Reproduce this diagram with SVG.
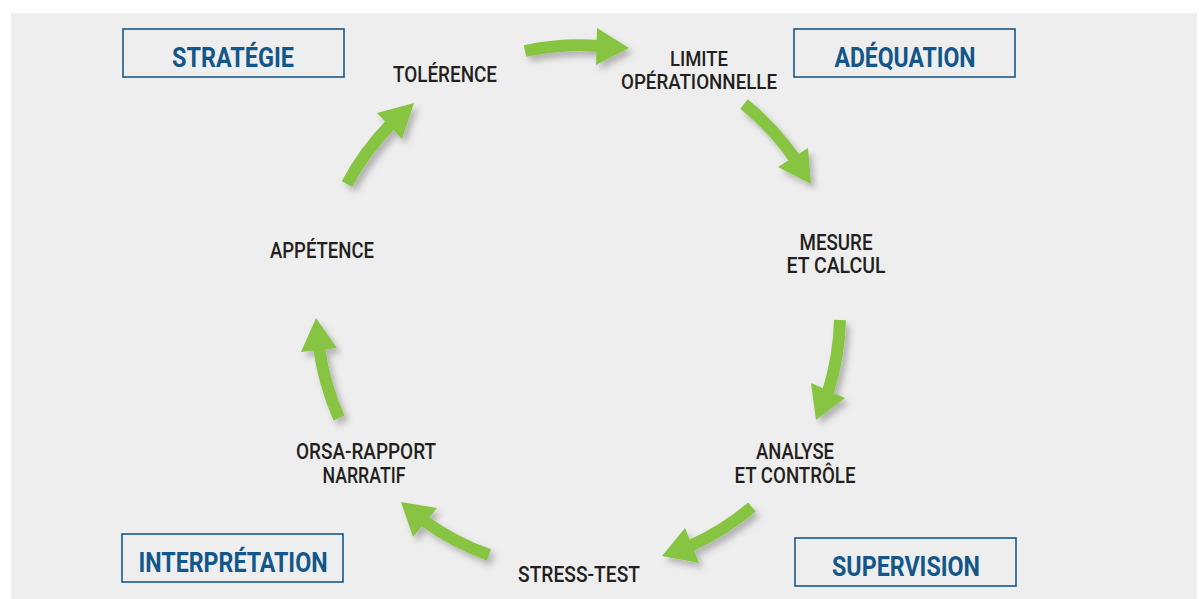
<svg xmlns="http://www.w3.org/2000/svg" width="1202" height="599" viewBox="0 0 1202 599">
<style>
.bg{fill:#eeeeee}
.box{fill:none;stroke:#14598c;stroke-width:1.6}
.hdr{font-family:Roboto,"Liberation Sans",sans-serif;font-weight:700;font-size:28px;fill:#12568a;text-anchor:middle}
.lbl{font-family:Roboto,"Liberation Sans",sans-serif;font-weight:500;font-size:22px;fill:#231f20;text-anchor:middle}
.tight{font-size:21px}
.shaft{fill:none;stroke:#86c442;stroke-width:12}
.head{fill:#86c442}
</style>
<defs>
<filter id="sh" x="-30%" y="-30%" width="160%" height="160%">
<feDropShadow dx="4" dy="5" stdDeviation="3" flood-color="#000" flood-opacity="0.25"/>
</filter>
</defs>
<rect class="bg" x="11" y="13" width="1186" height="586"/>

<g id="strategie"><rect class="box" x="123" y="29" width="221" height="48"/><text class="hdr" x="233" y="67" textLength="122" lengthAdjust="spacingAndGlyphs">STRATÉGIE</text></g>
<g id="adequation"><rect class="box" x="794" y="29" width="221" height="48"/><text class="hdr" x="905" y="67" textLength="141" lengthAdjust="spacingAndGlyphs">ADÉQUATION</text></g>
<g id="interpretation"><rect class="box" x="122" y="534" width="221" height="48"/><text class="hdr" x="233" y="572" textLength="189" lengthAdjust="spacingAndGlyphs">INTERPRÉTATION</text></g>
<g id="supervision"><rect class="box" x="795" y="538" width="221" height="48"/><text class="hdr" x="906" y="576" textLength="148" lengthAdjust="spacingAndGlyphs">SUPERVISION</text></g>

<g id="tolerence"><text class="lbl" x="445" y="82" textLength="104" lengthAdjust="spacingAndGlyphs">TOLÉRENCE</text></g>
<g id="limite"><text class="lbl tight" x="699" y="66" textLength="58" lengthAdjust="spacingAndGlyphs">LIMITE</text><text class="lbl tight" x="699" y="89" textLength="156" lengthAdjust="spacingAndGlyphs">OPÉRATIONNELLE</text></g>
<g id="mesure"><text class="lbl" x="836" y="250" textLength="73" lengthAdjust="spacingAndGlyphs">MESURE</text><text class="lbl" x="836" y="273" textLength="99" lengthAdjust="spacingAndGlyphs">ET CALCUL</text></g>
<g id="analyse"><text class="lbl" x="795" y="459" textLength="78" lengthAdjust="spacingAndGlyphs">ANALYSE</text><text class="lbl" x="795" y="483" textLength="121" lengthAdjust="spacingAndGlyphs">ET CONTRÔLE</text></g>
<g id="stresstest"><text class="lbl" x="579" y="582" textLength="122" lengthAdjust="spacingAndGlyphs">STRESS-TEST</text></g>
<g id="orsa"><text class="lbl" x="366" y="459" textLength="140" lengthAdjust="spacingAndGlyphs">ORSA-RAPPORT</text><text class="lbl" x="364" y="483" textLength="83" lengthAdjust="spacingAndGlyphs">NARRATIF</text></g>
<g id="appetence"><text class="lbl" x="322" y="258" textLength="104" lengthAdjust="spacingAndGlyphs">APPÉTENCE</text></g>

<g id="connectors" filter="url(#sh)">
<path class="shaft" d="M525 51 A262 262 0 0 1 600 46"/>
<polygon class="head" points="597,28 629,48 596,65"/>
<path class="shaft" d="M744 104 A262 262 0 0 1 795 159"/>
<polygon class="head" points="778,167 808,148 811,184"/>
<path class="shaft" d="M840 320 A262 262 0 0 1 828 392"/>
<polygon class="head" points="811,383 845,398 816,420"/>
<path class="shaft" d="M752 507 A262 262 0 0 1 690 546"/>
<polygon class="head" points="685,528 699,563 662,556"/>
<path class="shaft" d="M489 555 A262 262 0 0 1 423 520"/>
<polygon class="head" points="437,508 413,537 401,502"/>
<path class="shaft" d="M339 418 A262 262 0 0 1 319 347"/>
<polygon class="head" points="301,352 337,348 316,318"/>
<path class="shaft" d="M347 184 A262 262 0 0 1 391 124"/>
<polygon class="head" points="377,113 402,139 414,103"/>
</g>
</svg>
